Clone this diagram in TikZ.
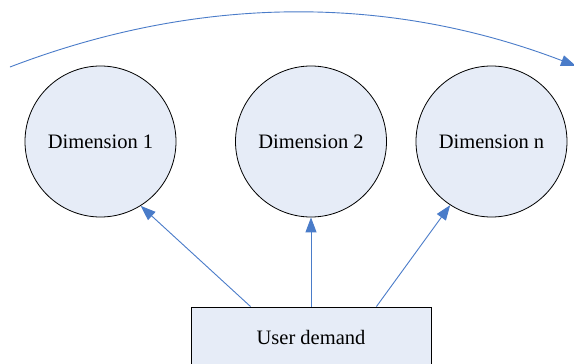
\documentclass[tikz,border=0pt]{standalone}
\usepackage{fontspec}
\setmainfont{Liberation Serif}
\usetikzlibrary{arrows.meta}
\definecolor{fillblue}{HTML}{E6ECF7}
\definecolor{lineblue}{HTML}{4A7CC9}
\begin{document}
\begin{tikzpicture}[x=1pt,y=-1pt,
  dim/.style={circle,draw=black,line width=0.8pt,fill=fillblue,minimum size=151pt,inner sep=0pt,font=\fontsize{20.5}{24}\selectfont},
  box/.style={rectangle,draw=black,line width=0.8pt,fill=fillblue,minimum width=240pt,minimum height=60pt,inner sep=0pt,font=\fontsize{20.5}{24}\selectfont},
  conn/.style={draw=lineblue,line width=0.9pt,-{Triangle[length=15pt,width=11pt]}}]
\clip (0,0) rectangle (574,364);
\fill[white] (0,0) rectangle (574,364);
\node[dim] (d1) at (100.5,141.5) {Dimension 1};
\node[dim] (d2) at (311,141.5) {Dimension 2};
\node[dim] (dn) at (491.5,141.5) {Dimension n};
\node[box] (ud) at (311,337) {User demand};
\coordinate (s1) at ([xshift=60pt]ud.north west);
\coordinate (sn) at ([xshift=-55pt]ud.north east);
\draw[conn] (s1) -- (d1.-58);
\draw[conn] (ud.north) -- (d2.south);
\draw[conn] (sn) -- (dn.-123);
\coordinate (a0) at (10,67);
\coordinate (a1) at (576,66);
\draw[conn] (a0) .. controls (198,-5) and (388,-6) .. (a1);
\end{tikzpicture}
\end{document}
